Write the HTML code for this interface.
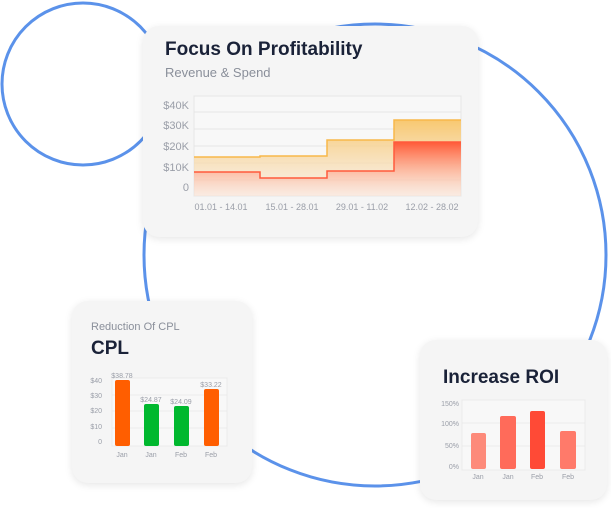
<!DOCTYPE html>
<html><head><meta charset="utf-8"><style>
body{margin:0;width:611px;height:508px;background:#fff;overflow:hidden;position:relative;font-family:"Liberation Sans",sans-serif}
.card{position:absolute;background:#f5f5f5;border-radius:16px;box-shadow:0 2px 8px rgba(0,0,0,0.10)}
svg{position:absolute;left:0;top:0}
</style></head><body>
<svg width="611" height="508" style="z-index:0">
<circle cx="83" cy="84" r="81" fill="none" stroke="#5b92ea" stroke-width="3"/>
<circle cx="375" cy="255" r="231" fill="none" stroke="#5b92ea" stroke-width="3"/>
</svg>
<div class="card" style="left:143px;top:26px;width:335px;height:211px"></div>
<div class="card" style="left:72px;top:301px;width:180px;height:182px"></div>
<div class="card" style="left:420px;top:340px;width:187px;height:160px"></div>
<svg width="611" height="508" style="z-index:2" font-family="Liberation Sans, sans-serif">
<defs>
<linearGradient id="go" x1="0" y1="0" x2="0" y2="1"><stop offset="0" stop-color="#f8c870"/><stop offset="1" stop-color="#f8e8d8" stop-opacity="0.5"/></linearGradient>
<linearGradient id="gr" x1="0" y1="0" x2="0" y2="1"><stop offset="0" stop-color="#ff5a38"/><stop offset="1" stop-color="#ffd8cc" stop-opacity="0.2"/></linearGradient>
</defs>
<text x="165" y="55" font-size="19" font-weight="bold" fill="#1a2238">Focus On Profitability</text>
<text x="165" y="77" font-size="13" fill="#8a8f9a">Revenue &amp; Spend</text>
<rect x="194" y="96" width="267" height="100" fill="#f8f8f8" stroke="#e6e6e6"/>
<g stroke="#e6e6e6"><line x1="194" x2="461" y1="112" y2="112"/><line x1="194" x2="461" y1="129" y2="129"/><line x1="194" x2="461" y1="146" y2="146"/><line x1="194" x2="461" y1="163" y2="163"/><line x1="194" x2="461" y1="180" y2="180"/></g>
<path d="M194 157H260V156H327V140H394V120H461V196H194Z" fill="url(#go)"/>
<path d="M194 157H260V156H327V140H394V120H461" fill="none" stroke="#f7b84a" stroke-width="1.5"/>
<path d="M194 172H260V178H327V171H394V142H461V196H194Z" fill="url(#gr)"/>
<path d="M194 172H260V178H327V171H394V142H461" fill="none" stroke="#ff5a3c" stroke-width="1.5"/>
<g font-size="11" fill="#9a9ea8" text-anchor="end"><text x="189" y="109">$40K</text><text x="189" y="129">$30K</text><text x="189" y="150">$20K</text><text x="189" y="171">$10K</text><text x="189" y="191">0</text></g>
<g font-size="9" fill="#9a9ea8" text-anchor="middle"><text x="221" y="210">01.01 - 14.01</text><text x="292" y="210">15.01 - 28.01</text><text x="362" y="210">29.01 - 11.02</text><text x="432" y="210">12.02 - 28.02</text></g>

<text x="91" y="330" font-size="11" fill="#8a8f9a">Reduction Of CPL</text>
<text x="91" y="354" font-size="19" font-weight="bold" fill="#1a2238">CPL</text>
<rect x="112" y="378" width="115" height="68" fill="#f8f8f8" stroke="#ebebeb"/>
<g stroke="#ebebeb"><line x1="112" x2="227" y1="395" y2="395"/><line x1="112" x2="227" y1="411" y2="411"/><line x1="112" x2="227" y1="428" y2="428"/></g>
<rect x="115" y="380" width="15" height="66" rx="2" fill="#ff5e00"/>
<rect x="144" y="404" width="15" height="42" rx="2" fill="#00b82e"/>
<rect x="174" y="406" width="15" height="40" rx="2" fill="#00b82e"/>
<rect x="204" y="389" width="15" height="57" rx="2" fill="#ff5e00"/>
<g font-size="7" fill="#9a9ea8" text-anchor="middle"><text x="122" y="378">$38.78</text><text x="151" y="402">$24.87</text><text x="181" y="404">$24.09</text><text x="211" y="387">$33.22</text>
<text x="122" y="457">Jan</text><text x="151" y="457">Jan</text><text x="181" y="457">Feb</text><text x="211" y="457">Feb</text></g>
<g font-size="7" fill="#9a9ea8" text-anchor="end"><text x="102" y="383">$40</text><text x="102" y="398">$30</text><text x="102" y="413">$20</text><text x="102" y="429">$10</text><text x="102" y="444">0</text></g>

<text x="443" y="383" font-size="19" font-weight="bold" fill="#1a2238">Increase ROI</text>
<rect x="462" y="400" width="123" height="70" fill="#f8f8f8" stroke="#ebebeb"/>
<g stroke="#ebebeb"><line x1="462" x2="585" y1="423" y2="423"/><line x1="462" x2="585" y1="446" y2="446"/></g>
<rect x="471" y="433" width="15" height="36" rx="2" fill="#fd8a7a"/>
<rect x="500" y="416" width="16" height="53" rx="2" fill="#ff6b5a"/>
<rect x="530" y="411" width="15" height="58" rx="2" fill="#ff4a36"/>
<rect x="560" y="431" width="16" height="38" rx="2" fill="#ff7a6a"/>
<g font-size="7" fill="#9a9ea8" text-anchor="end"><text x="459" y="406">150%</text><text x="459" y="426">100%</text><text x="459" y="448">50%</text><text x="459" y="469">0%</text></g>
<g font-size="7" fill="#9a9ea8" text-anchor="middle"><text x="478" y="479">Jan</text><text x="508" y="479">Jan</text><text x="537" y="479">Feb</text><text x="568" y="479">Feb</text></g>
</svg>
</body></html>
